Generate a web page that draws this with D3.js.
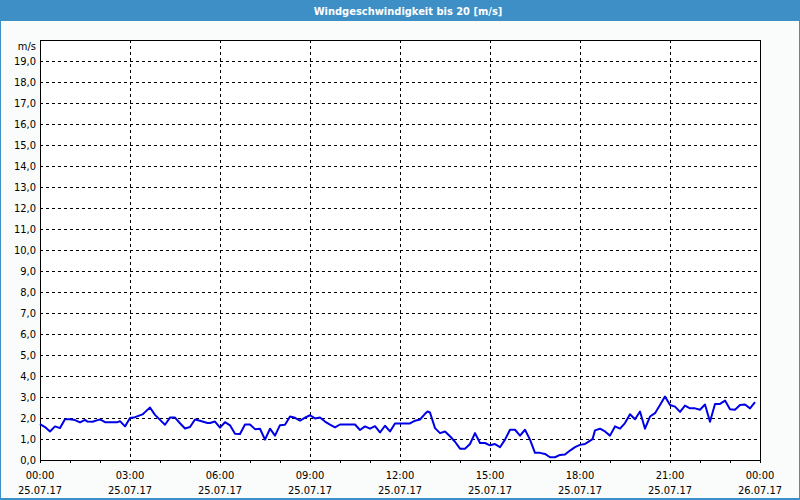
<!DOCTYPE html>
<html><head><meta charset="utf-8">
<script src="https://cdn.jsdelivr.net/npm/d3@7"></script>
<style>
html,body{margin:0;padding:0;background:#fff;}
svg{display:block;}
text{font-family:"DejaVu Sans Condensed","DejaVu Sans",sans-serif;font-size:11px;fill:#000;}
</style></head><body>
<svg id="c" width="800" height="500"></svg>
<script>
const title = "Windgeschwindigkeit bis 20 [m/s]";
const unitLabel = "m/s";
const dayStart = "2017-07-25 00:00";
const dayEnd = "2017-07-26 00:00";
const times = ["00:00","00:10","00:20","00:30","00:40","00:50","01:00","01:10","01:20","01:30","01:35","01:45","01:55","02:00","02:10","02:35","02:40","02:50","03:00","03:10","03:25","03:30","03:40","03:50","04:00","04:10","04:20","04:30","04:40","04:50","05:00","05:10","05:20","05:35","05:40","05:50","06:00","06:10","06:20","06:30","06:40","06:50","07:00","07:10","07:20","07:30","07:40","07:50","08:00","08:10","08:20","08:30","08:40","08:50","09:00","09:10","09:20","09:30","09:40","09:50","10:00","10:30","10:40","10:50","11:00","11:10","11:20","11:30","11:40","11:50","12:20","12:30","12:40","12:50","12:55","13:00","13:10","13:20","13:30","13:40","13:50","14:00","14:10","14:20","14:30","14:40","14:50","15:00","15:10","15:20","15:30","15:40","15:50","16:00","16:10","16:20","16:30","16:40","16:50","17:00","17:10","17:20","17:30","17:40","17:50","18:00","18:10","18:15","18:25","18:30","18:40","18:50","19:00","19:10","19:20","19:30","19:40","19:50","20:00","20:10","20:20","20:30","20:40","20:50","21:00","21:10","21:20","21:30","21:40","21:50","22:00","22:10","22:20","22:30","22:40","22:50","23:00","23:10","23:20","23:30","23:40","23:50"];
const speeds = [1.71,1.57,1.36,1.60,1.52,1.94,1.94,1.90,1.79,1.91,1.83,1.82,1.90,1.93,1.80,1.80,1.85,1.60,2.00,2.04,2.17,2.28,2.50,2.15,1.91,1.68,2.02,2.02,1.75,1.50,1.57,1.93,1.87,1.76,1.76,1.83,1.54,1.80,1.65,1.25,1.24,1.69,1.69,1.47,1.49,0.97,1.49,1.16,1.66,1.68,2.07,2.01,1.87,2.02,2.13,1.98,2.02,1.83,1.68,1.55,1.69,1.69,1.43,1.60,1.49,1.61,1.31,1.63,1.36,1.74,1.74,1.87,1.93,2.20,2.31,2.26,1.52,1.28,1.36,1.13,0.87,0.54,0.54,0.76,1.28,0.81,0.81,0.70,0.76,0.61,0.97,1.44,1.44,1.16,1.44,0.97,0.34,0.34,0.29,0.13,0.13,0.24,0.26,0.45,0.61,0.72,0.76,0.84,0.99,1.41,1.49,1.36,1.16,1.60,1.49,1.76,2.18,1.94,2.31,1.49,2.07,2.23,2.62,3.02,2.62,2.54,2.29,2.59,2.46,2.46,2.39,2.64,1.82,2.67,2.67,2.83,2.42,2.39,2.62,2.64,2.46,2.76];
const yTicks = [0,1,2,3,4,5,6,7,8,9,10,11,12,13,14,15,16,17,18,19];
const yMax = 20;

const svg = d3.select("#c");
const W = 800, H = 500;
const m = {left:40, top:40, right:40, bottom:40};
const pw = W - m.left - m.right, ph = H - m.top - m.bottom;

const parseFull = d3.timeParse("%Y-%m-%d %H:%M");
const t0 = parseFull(dayStart), t1 = parseFull(dayEnd);
const data = times.map((t,i)=>({t: parseFull("2017-07-25 " + t), v: speeds[i]}));

// background
svg.append("rect").attr("x",0).attr("y",0).attr("width",W).attr("height",H).attr("fill","#3d8fc6");
svg.append("rect").attr("x",1).attr("y",21).attr("width",W-2).attr("height",H-23).attr("fill","#f9fcfb");
svg.append("text").attr("x",408).attr("y",15).attr("text-anchor","middle")
  .style("font-weight","bold").style("fill","#fff").style("font-size","11px").text(title);

const x = d3.scaleTime().domain([t0,t1]).range([m.left, m.left+pw]);
const y = d3.scaleLinear().domain([0,yMax]).range([m.top+ph, m.top]);

svg.append("rect").attr("x",m.left).attr("y",m.top).attr("width",pw).attr("height",ph).attr("fill","#fff");

const g = svg.append("g");
// horizontal grid
g.selectAll("line.hg").data(yTicks.filter(d=>d>0)).join("line")
  .attr("x1",m.left).attr("x2",m.left+pw)
  .attr("y1",d=>Math.round(y(d))+0.5).attr("y2",d=>Math.round(y(d))+0.5)
  .attr("stroke","#000").attr("stroke-dasharray","3,3").attr("shape-rendering","crispEdges");
// vertical grid
const majors = d3.timeHour.every(3).range(t0, t1);
g.selectAll("line.vg").data(majors.filter(d=>+d>+t0)).join("line")
  .attr("y1",m.top).attr("y2",m.top+ph)
  .attr("x1",d=>Math.round(x(d))+0.5).attr("x2",d=>Math.round(x(d))+0.5)
  .attr("stroke","#000").attr("stroke-dasharray","3,3").attr("shape-rendering","crispEdges");

// y axis labels
const yAxis = d3.axisLeft(y).tickValues(yTicks).tickSize(0).tickPadding(4)
  .tickFormat(d=>d3.format(".1f")(d).replace(".",","));
const ya = svg.append("g").attr("transform",`translate(${m.left},0)`).call(yAxis);
ya.select(".domain").remove();
ya.selectAll("text").style("font-family",null).style("font-size",null).attr("font-family",null).attr("font-size",null);
svg.append("text").attr("x",36).attr("y",m.top+10).attr("text-anchor","end").text(unitLabel);

// x axis
const xa = svg.append("g").attr("transform",`translate(0,${m.top+ph})`)
  .call(d3.axisBottom(x).ticks(d3.timeHour.every(1)).tickSize(3).tickFormat(""));
xa.select(".domain").remove();
xa.selectAll("line").attr("shape-rendering","crispEdges");
const labTicks = d3.timeHour.every(3).range(t0, d3.timeMinute.offset(t1,1));
const fT = d3.timeFormat("%H:%M"), fD = d3.timeFormat("%d.%m.%y");
const lab = svg.append("g").selectAll("text").data(labTicks).join("text")
  .attr("x",d=>x(d)).attr("text-anchor","middle");
lab.append("tspan").attr("x",d=>x(d)).attr("y",m.top+ph+19).text(d=>fT(d));
lab.append("tspan").attr("x",d=>x(d)).attr("y",m.top+ph+34).text(d=>fD(d));

// frame
svg.append("rect").attr("x",m.left+0.5).attr("y",m.top+0.5).attr("width",pw).attr("height",ph)
  .attr("fill","none").attr("stroke","#000").attr("shape-rendering","crispEdges");

// line
const line = d3.line().x(d=>x(d.t)).y(d=>y(d.v));
svg.append("path").datum(data).attr("d",line).attr("fill","none")
  .attr("stroke","#0000e6").attr("stroke-width",2).attr("stroke-linejoin","round");
</script>
</body></html>
